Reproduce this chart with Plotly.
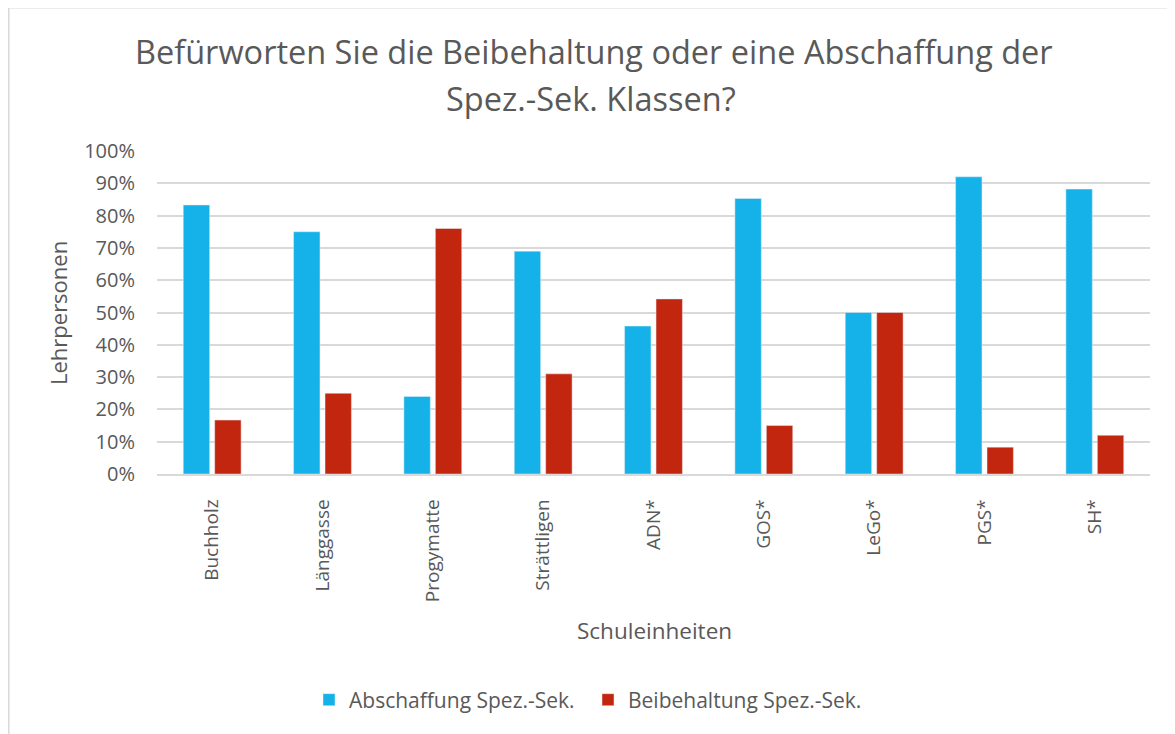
import plotly.graph_objects as go

categories = ["Buchholz", "Länggasse", "Progymatte", "Strättligen", "ADN*", "GOS*", "LeGo*", "PGS*", "SH*"]
abschaffung = [0.833, 0.75, 0.24, 0.69, 0.458, 0.853, 0.50, 0.92, 0.882]
beibehaltung = [0.167, 0.25, 0.76, 0.31, 0.542, 0.15, 0.50, 0.083, 0.12]
series_names = ["Abschaffung Spez.-Sek.", "Beibehaltung Spez.-Sek."]
colors = ["#14B2E8", "#C3260E"]
title_lines = ["Befürworten Sie die Beibehaltung oder eine Abschaffung der", "Spez.-Sek. Klassen?"]
x_title = "Schuleinheiten"
y_title = "Lehrpersonen"

# page body has an 8px margin, so the figure starts at (8, 8) of the window
OFF = 8
W, H = 1175 - OFF, 734 - OFF
L, R, T, B = 157 - OFF, 1175 - 1150, 151 - OFF, 734 - 474
pw, ph = W - L - R, H - T - B
FONT = "'Open Sans', sans-serif"
TXT = "#595959"

def px(x):
    return (x - OFF - L) / pw

def py(y):
    return (H - B - (y - OFF)) / ph

fig = go.Figure()
fig.add_trace(go.Bar(x=categories, y=abschaffung, name=series_names[0], marker_color=colors[0]))
fig.add_trace(go.Bar(x=categories, y=beibehaltung, name=series_names[1], marker_color=colors[1]))

fig.update_layout(
    width=W, height=H,
    margin=dict(l=L, r=R, t=T, b=B, autoexpand=False),
    paper_bgcolor="white", plot_bgcolor="white",
    barmode="group", bargap=0.43, bargroupgap=0.16,
    font=dict(family=FONT, color=TXT, size=19),
    showlegend=True,
    legend=dict(orientation="h", x=px(309), xanchor="left", y=py(700), yanchor="middle",
                font=dict(size=21, color=TXT), itemwidth=30, traceorder="normal",
                entrywidth=234, entrywidthmode="pixels"),
    xaxis=dict(showgrid=False, showline=True, linecolor="#D9D9D9", linewidth=1.5,
               tickangle=-90, ticks="", ticklabelstandoff=16, tickfont=dict(size=19, color=TXT),
               fixedrange=True),
    yaxis=dict(range=[0, 1], dtick=0.1, tickformat=".0%", showgrid=True, gridcolor="#D9D9D9",
               gridwidth=1.5, zeroline=False, ticks="", ticklabelstandoff=21,
               tickfont=dict(size=20, color=TXT), fixedrange=True),
    annotations=[
        dict(text=title_lines[0], x=px(594), y=py(51), xref="paper", yref="paper",
             showarrow=False, xanchor="center", yanchor="middle", font=dict(size=32.5, color=TXT)),
        dict(text=title_lines[1], x=px(591), y=py(98), xref="paper", yref="paper",
             showarrow=False, xanchor="center", yanchor="middle", font=dict(size=32.5, color=TXT)),
        dict(text=x_title, x=px(654), y=py(630), xref="paper", yref="paper",
             showarrow=False, xanchor="center", yanchor="middle", font=dict(size=22.5, color=TXT)),
        dict(text=y_title, x=px(58), y=py(313), xref="paper", yref="paper", textangle=-90,
             showarrow=False, xanchor="center", yanchor="middle", font=dict(size=22, color=TXT)),
    ],
    shapes=[dict(type="rect", xref="paper", yref="paper",
                 x0=px(8.8), x1=px(1200), y0=py(760), y1=py(7.8),
                 line=dict(color="#D9D9D9", width=1.5), fillcolor="rgba(0,0,0,0)", layer="below")],
)

fig.write_html("out.html")
